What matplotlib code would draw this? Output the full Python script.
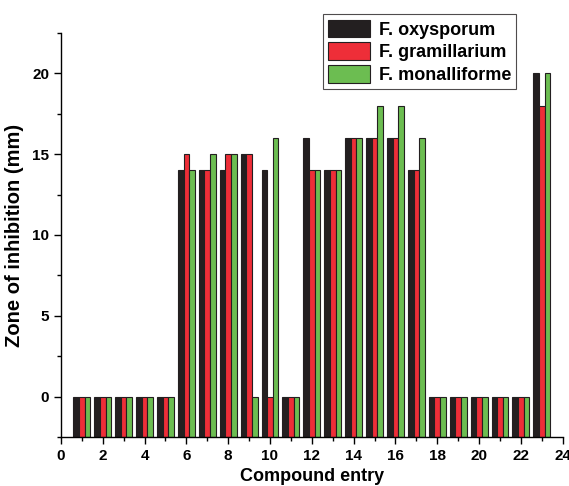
import matplotlib.pyplot as plt
import numpy as np

plt.rcParams['font.family'] = ['Liberation Sans', 'DejaVu Sans']
plt.rcParams['font.weight'] = 'bold'

# Compound entries and zone of inhibition (mm) per fungus
compounds = list(range(1, 24))
oxysporum = [0, 0, 0, 0, 0, 14, 14, 14, 15, 14, 0, 16, 14, 16, 16, 16, 14, 0, 0, 0, 0, 0, 20]
gramillarium = [0, 0, 0, 0, 0, 15, 14, 15, 15, 0, 0, 14, 14, 16, 16, 16, 14, 0, 0, 0, 0, 0, 18]
monalliforme = [0, 0, 0, 0, 0, 14, 15, 15, 0, 16, 0, 14, 14, 16, 18, 18, 16, 0, 0, 0, 0, 0, 20]

series = [
    ("F. oxysporum", oxysporum, "#231f20"),
    ("F. gramillarium", gramillarium, "#ee2e38"),
    ("F. monalliforme", monalliforme, "#6cbd51"),
]

ymin, ymax = -2.5, 22.5
width = 0.27

fig = plt.figure(figsize=(5.69, 4.86), dpi=100)
ax = fig.add_axes([0.107, 0.101, 0.882, 0.831])

x = np.array(compounds)
for i, (name, vals, color) in enumerate(series):
    heights = np.array(vals) - ymin
    ax.bar(x + (i - 1) * width, heights, width, bottom=ymin, color=color,
           edgecolor="#231f20", linewidth=0.8, label=name)

ax.set_xlim(0, 24)
ax.set_ylim(ymin, ymax)
ax.set_xticks(range(0, 25, 2))
ax.set_xticks(range(1, 24, 2), minor=True)
ax.set_yticks([0, 5, 10, 15, 20])
ax.set_yticks([-2.5, 2.5, 7.5, 12.5, 17.5, 22.5], minor=True)
ax.tick_params(which='major', direction='out', length=5, width=1, labelsize=11)
ax.tick_params(which='minor', direction='out', length=3, width=1)
for lab in ax.get_xticklabels() + ax.get_yticklabels():
    lab.set_fontweight('bold')

ax.spines['top'].set_visible(False)
ax.spines['right'].set_visible(False)
ax.spines['left'].set_linewidth(1)
ax.spines['bottom'].set_linewidth(1)

ax.set_xlabel("Compound entry", fontsize=13, fontweight='bold', labelpad=4)
ax.set_ylabel("Zone of inhibition (mm)", fontsize=14.5, fontweight='bold', labelpad=6)

leg = fig.legend(loc='upper left', bbox_to_anchor=(0.567, 0.971), frameon=True,
                 fancybox=False, edgecolor='#231f20',
                 prop={'weight': 'bold', 'size': 13}, handlelength=2.35,
                 handleheight=1.15, handletextpad=0.45, borderpad=0.3,
                 labelspacing=0.2, borderaxespad=0)
for t in leg.get_texts():
    t.set_fontweight('bold')
leg.get_frame().set_linewidth(0.8)

fig.savefig("out.png", dpi=100)
